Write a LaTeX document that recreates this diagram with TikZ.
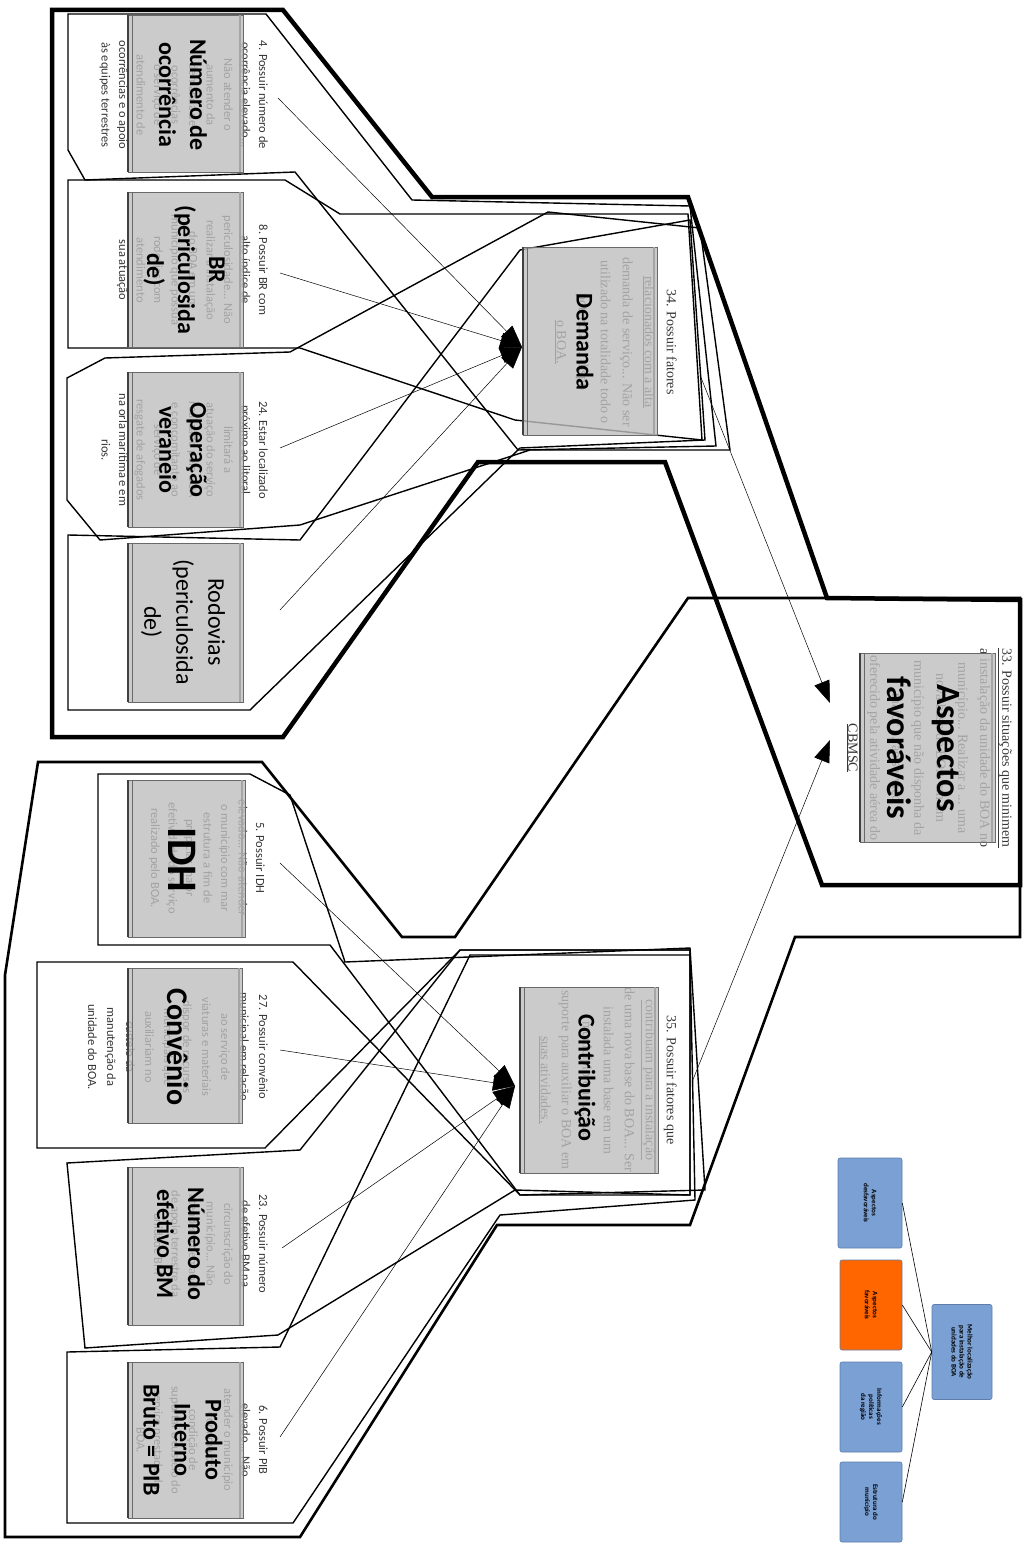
\documentclass[tikz,border=0pt]{standalone}
\usepackage{fontspec}
\setmainfont{Carlito}
\newfontfamily\descfont{Carlito}
\newfontfamily\notefont{Liberation Serif}
\usetikzlibrary{arrows.meta}
\definecolor{boxgray}{RGB}{190,190,190}
\definecolor{boxedge}{RGB}{105,105,105}
\definecolor{desctext}{RGB}{55,55,55}
\definecolor{legblue}{RGB}{122,160,212}
\definecolor{legedge}{RGB}{95,125,170}
\definecolor{legorange}{RGB}{255,102,0}
% gray card: rectangle with a dark double edge on its left side
\newcommand\graybox[4]{%
  \path[cardbox] (#1,#2) rectangle (#3,#4);
  \draw[black!75,line width=1.4pt] (#1,#2) -- (#1,#4);
  \draw[boxedge,line width=1pt] ({#1+4},#2) -- ({#1+4},#4);
  \draw[boxedge!60,line width=1.5pt] ({#3-3},#2) -- ({#3-3},#4);}
\begin{document}
\begin{tikzpicture}[x=1pt,y=-1pt,
  thickline/.style={line width=4.5pt,line join=miter},
  midline/.style={line width=2.6pt,line join=miter},
  thinline/.style={line width=1.4pt,line join=miter},
  desctxt/.style={rotate=-90,anchor=north,inner sep=0pt,align=center,text=desctext,
    font=\descfont\fontsize{12.5}{17.5}\selectfont},
  notetxt/.style={rotate=-90,anchor=north,inner sep=0pt,align=center,text=desctext,
    font=\notefont\fontsize{14}{22}\selectfont},
  boxtitle/.style={rotate=-90,inner sep=0pt,align=center,
    font=\fontsize{24}{31}\selectfont\bfseries},
  cardbox/.style={draw=boxedge,fill=boxgray,fill opacity=0.8,line width=0.8pt},
  conn/.style={line width=0.5pt,-{Triangle[length=22pt,width=16pt]}},
  legbox/.style={rotate=-90,draw=legedge,fill=legblue,rounded corners=2pt,line width=0.6pt,
    align=center,inner sep=1pt,font=\fontsize{7}{8}\selectfont\bfseries},
]
\useasboundingbox (0,0) rectangle (1023,1544);
\fill[white] (0,0) rectangle (1023,1544);

% ---------- outlines ----------
\draw[thickline] (52,10) -- (283,10) -- (432,197) -- (688,197) -- (827,598) -- (1020,600)
  -- (1020,885) -- (822,885) -- (665,462) -- (478,462) -- (283,737) -- (52,737) -- cycle;
\draw[midline] (38,762) -- (262,762) -- (402,937) -- (455,937) -- (688,598) -- (1020,598)
  -- (1020,937) -- (795,937) -- (690,1225) -- (497,1225) -- (300,1537) -- (5,1537)
  -- (5,975) -- cycle;

% upper cards and their funnels
\draw[thinline] (68,14) -- (266,14) -- (412,200) -- (690,206) -- (716,446) -- (518,450)
  -- (295,172) -- (85,180) -- (68,150) -- cycle;
\draw[thinline] (68,180) -- (285,180) -- (340,214) -- (688,214) -- (702,440) -- (515,420)
  -- (300,348) -- (68,348) -- cycle;
\draw[thinline] (67,378) -- (105,358) -- (290,352) -- (548,212) -- (700,228) -- (730,450)
  -- (530,450) -- (300,525) -- (100,540) -- (67,500) -- cycle;
\draw[thinline] (68,535) -- (300,540) -- (520,250) -- (690,220) -- (705,440) -- (520,448)
  -- (250,710) -- (68,710) -- cycle;

% lower cards and their funnels
\draw[thinline] (98,774) -- (250,774) -- (290,795) -- (345,962) -- (690,948) -- (705,1190)
  -- (520,1195) -- (330,945) -- (98,945) -- cycle;
\draw[thinline] (37,962) -- (293,962) -- (520,1195) -- (690,1195) -- (690,950) -- (460,950)
  -- (265,1148) -- (37,1148) -- cycle;
\draw[thinline] (67,1163) -- (300,1150) -- (460,950) -- (690,950) -- (690,1195) -- (515,1190)
  -- (278,1335) -- (85,1348) -- cycle;
\draw[thinline] (67,1352) -- (280,1347) -- (470,955) -- (690,955) -- (695,1200) -- (500,1215)
  -- (293,1523) -- (67,1523) -- cycle;

% ---------- descriptions ----------
\node[desctxt] (d1) at (268,95) {4. Possuir número de\\ocorrência elevado...\\Não atender o\\aumento da\\demanda de\\ocorrências\\o serviço de\\atendimento de\\ocorrências e o apoio\\às equipes terrestres};
\node[desctxt] (d2) at (268,270) {8. Possuir BR com\\alto índice de\\periculosidade... Não\\realizar a instalação\\do BOA em um\\município que possua\\rodovias com\\atendimento\\sua atuação};
\node[desctxt] (d3) at (268,450) {24. Estar localizado\\próximo ao litoral\\limitará a\\atuação do serviço\\realizado pelo BOA\\e concomitante ao\\serviço de\\resgate de afogados\\na orla marítima e em\\rios.};
\node[desctxt] (d5) at (265,858) {5. Possuir IDH\\elevado... Não atender\\o município com mar\\estrutura a fim de\\propiciar maior\\efetividade do serviço\\realizado pelo BOA.};
\node[desctxt,font=\descfont\fontsize{12.5}{19}\selectfont] (d6) at (268,1047) {27. Possuir convênio\\municipal em relação\\ao serviço de\\viaturas e materiais\\dispor de recursos\\municipais que\\auxiliariam no\\custeio da\\manutenção da\\unidade do BOA.};
\node[desctxt] (d7) at (268,1244) {23. Possuir número\\de efetivo BM na\\circunscrição do\\município... Não\\atender a demanda\\de apoio terrestre da\\unidade BM};
\node[desctxt] (d8) at (268,1440) {6. Possuir PIB\\elevado... Não\\atender o município\\com maior\\condição de\\suportar o custeio do\\serviço prestado do\\BOA.};
\node[notetxt] (dd) at (677,342) {34. Possuir fatores\\\underline{relacionados com a alta}\\demanda de serviço... Não ser\\utilizado na totalidade todo o\\potencial... dispo\\\underline{o BOA.}};
\node[notetxt,font=\notefont\fontsize{14}{21}\selectfont] (dc) at (677,1080) {35. Possuir fatores que\\\underline{contribuam para a instalação}\\de uma nova base do BOA... Ser\\instalada uma base em um\\município que ... sua\\suporte para auxiliar o BOA em\\\underline{suas atividades.}};
\node[notetxt] (da) at (1012,748) {\underline{33. Possuir situações que minimem}\\a instalação da unidade do BOA no\\município... Realizar a ... uma\\nova base do BOA em um\\município que não disponha da\\maior ... ao serviço\\oferecido pela atividade aérea do\\\underline{CBMSC}};

% ---------- gray cards ----------
\graybox{128}{15}{243}{172}
\graybox{128}{192}{243}{347}
\graybox{128}{372}{243}{527}
\graybox{128}{543}{243}{702}
\graybox{128}{780}{245}{937}
\graybox{128}{968}{242}{1123}
\graybox{128}{1167}{243}{1325}
\graybox{128}{1362}{243}{1518}
\graybox{523}{247}{657}{435}
\graybox{520}{987}{658}{1173}
\graybox{860}{653}{995}{842}

\node[boxtitle] (ocorr) at (183,95) {Número de\\ocorrência};
\node[boxtitle] (br) at (184,270) {BR\\(periculosida\\de)};
\node[boxtitle] (verao) at (183,450) {Operação\\veraneio};
\node[boxtitle,font=\fontsize{24}{32}\selectfont] (rodo) at (183,622) {Rodovias\\(periculosida\\de)};
\node[boxtitle,font=\fontsize{42}{46}\selectfont\bfseries] (idh) at (182,860) {IDH};
\node[boxtitle,font=\fontsize{30}{34}\selectfont\bfseries] (conv) at (178,1047) {Convênio};
\node[boxtitle] (efet) at (181,1244) {Número do\\efetivo BM};
\node[boxtitle] (pib) at (183,1440) {Produto\\Interno\\Bruto = PIB};
\node[boxtitle] (dem) at (585,342) {Demanda};
\node[boxtitle] (contr) at (585,1078) {Contribuição};
\node[boxtitle,font=\fontsize{34}{50}\selectfont\bfseries] (asp) at (923,748) {Aspectos\\favoráveis};

% ---------- connectors ----------
\coordinate (t1) at (278,98);
\coordinate (t2) at (280,273);
\coordinate (t3) at (280,448);
\coordinate (t4) at (280,610);
\coordinate (t5) at (280,863);
\coordinate (t6) at (280,1050);
\coordinate (t7) at (282,1248);
\coordinate (t8) at (280,1437);
\coordinate (hd) at (522,347);
\coordinate (hc) at (515,1086);
\coordinate (ta) at (700,375);
\coordinate (tb) at (692,1082);
\coordinate (ha) at (830,703);
\coordinate (hb) at (830,740);
\foreach \t in {t1,t2,t3,t4} \draw[conn] (\t) -- (hd);
\foreach \t in {t5,t6,t7,t8} \draw[conn] (\t) -- (hc);
\draw[conn] (ta) -- (ha);
\draw[conn] (tb) -- (hb);

% ---------- small hierarchy ----------
\node[legbox,minimum width=90pt,minimum height=64pt] (l1) at (870,1203) {Aspectos\\desfavoráveis};
\node[legbox,fill=legorange,minimum width=90pt,minimum height=62pt] (l2) at (871,1305) {Aspectos\\favoráveis};
\node[legbox,minimum width=90pt,minimum height=62pt] (l3) at (871,1407) {Informações\\políticas\\da região};
\node[legbox,minimum width=80pt,minimum height=62pt] (l4) at (871,1502) {Estrutura do\\município};
\node[legbox,minimum width=95pt,minimum height=60pt] (lc) at (962,1352) {Melhor localização\\para instalação de\\unidades do BOA};
\foreach \n in {l1,l2,l3,l4} \draw[line width=0.6pt] (lc.south) -- (\n.north);
\end{tikzpicture}
\end{document}
